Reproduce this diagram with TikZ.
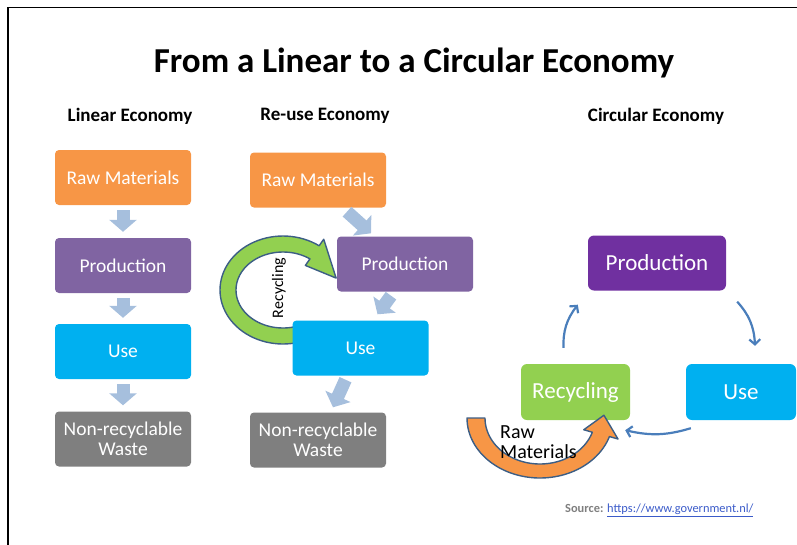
\documentclass[tikz,border=0pt]{standalone}
\usepackage{fontspec}
\setmainfont{Carlito}
\usetikzlibrary{arrows.meta,calc,bending}

\definecolor{rawc}{RGB}{247,150,70}
\definecolor{prodc}{RGB}{128,100,162}
\definecolor{usec}{RGB}{0,176,240}
\definecolor{wastec}{RGB}{127,127,127}
\definecolor{cprodc}{RGB}{112,48,160}
\definecolor{recc}{RGB}{146,208,80}
\definecolor{flowc}{RGB}{166,191,221}
\definecolor{cyclec}{RGB}{74,126,187}
\definecolor{edgec}{RGB}{60,94,133}
\definecolor{linkc}{RGB}{59,91,201}

\tikzset{
  box/.style={rounded corners=4pt, minimum width=136pt, minimum height=55pt,
    text=white, align=center, inner sep=1pt, font=\fontsize{19.5}{19.5}\selectfont},
  cbox/.style={rounded corners=6pt, minimum height=55pt, text=white,
    inner sep=2pt, font=\fontsize{23}{25}\selectfont},
  header/.style={font=\bfseries\fontsize{19}{21}\selectfont},
  flow/.style={draw=flowc, line width=13pt, -{Triangle[length=12pt,width=27pt]}},
  cycle/.style={draw=cyclec, line width=2.2pt, -{Straight Barb[length=5pt,width=11pt]}},
  band/.style={draw=edgec, line width=1.4pt, line join=round},
}

\begin{document}
\begin{tikzpicture}[x=1pt,y=-1pt]
\useasboundingbox (0,0) rectangle (797,544);

% frame
\draw[line width=1.6pt] (8,560) -- (8,7.5) -- (810,7.5);

% titles
\node[font=\bfseries\fontsize{35}{38}\selectfont] (title) at (414,63) {From a Linear to a Circular Economy};
\node[header] (hlin) at (130,116) {Linear Economy};
\node[header] (hre) at (325,116) {Re-use Economy};
\node[header] (hcirc) at (656,116) {Circular Economy};

% ---- linear economy
\node[box, fill=rawc] (lraw) at (123,177.5) {Raw Materials};
\node[box, fill=prodc] (lprod) at (123,265.5) {Production};
\node[box, fill=usec] (luse) at (123,351.5) {Use};
\node[box, fill=wastec] (lwaste) at (123,439) {Non-recyclable\\Waste};
\draw[flow, shorten <=5pt, shorten >=6pt] (lraw) -- (lprod);
\draw[flow, shorten <=5pt, shorten >=6pt] (lprod) -- (luse);
\draw[flow, shorten <=5pt, shorten >=6pt] (luse) -- (lwaste);

% ---- re-use economy: recycling loop behind the boxes
\filldraw[band, fill=recc]
  plot[domain=75:305, samples=60, variable=\t] ({283+63*cos(\t)},{290+54*sin(\t)})
  -- ({283+71*cos(305)},{290+62*sin(305)})
  -- ({283+55*cos(345)},{290+46*sin(345)})
  -- ({283+39*cos(305)},{290+30*sin(305)})
  -- plot[domain=305:75, samples=60, variable=\t] ({283+47*cos(\t)},{290+38*sin(\t)})
  -- cycle;
\node[rotate=90, font=\fontsize{16}{18}\selectfont] (rlab) at (279,288) {Recycling};

\node[box, fill=rawc] (rraw) at (318,180) {Raw Materials};
\node[box, fill=prodc] (rprod) at (405,264) {Production};
\node[box, fill=usec] (ruse) at (360.5,348) {Use};
\node[box, fill=wastec] (rwaste) at (318,440) {Non-recyclable\\Waste};
\draw[flow] ($(rraw.south)+(29,4)$) -- ($(rprod.north)+(-34,-3)$);
\draw[flow] ($(rprod.south)+(-14,4)$) -- ($(ruse.north)+(17,-6)$);
\draw[flow] ($(ruse.south)+(-15,4)$) -- ($(rwaste.north)+(15,-5)$);

% ---- circular economy
\node[cbox, fill=cprodc, minimum width=138pt] (cprod) at (657,263) {Production};
\node[cbox, fill=usec, minimum width=110pt, minimum height=56pt] (cuse) at (741,392) {Use};
\node[cbox, fill=recc, minimum width=109pt, minimum height=56pt] (crec) at (575.5,392) {Recycling};

\coordinate (r1) at ($(crec.north)+(-12,-16)$);
\coordinate (p1) at ($(cprod.south west)+(-10,14)$);
\coordinate (p2) at ($(cprod.south east)+(11,11)$);
\coordinate (u1) at ($(cuse.north)+(14,-18)$);
\coordinate (u2) at ($(cuse.south west)+(5,8)$);
\coordinate (r2) at ($(crec.south east)+(-5,10)$);
\draw[cycle] (r1) to[bend left=20] (p1);
\draw[cycle] (p2) to[bend left=20] (u1);
\draw[cycle] (u2) to[bend left=15] (r2);

% raw materials entering the loop
\filldraw[band, fill=rawc]
  plot[domain=180:18, samples=60, variable=\t] ({540+73*cos(\t)},{418+60*sin(\t)})
  -- ({540+82*cos(18)},{418+68*sin(18)})
  -- ({540+64*cos(-3)},{418+53*sin(-3)})
  -- ({540+46*cos(18)},{418+38*sin(18)})
  -- plot[domain=18:180, samples=60, variable=\t] ({540+55*cos(\t)},{418+46*sin(\t)})
  -- cycle;
\node[anchor=west, align=left, font=\fontsize{20}{20}\selectfont, inner sep=0pt] (rawlab) at (500,442) {Raw\\Materials};

% source line
\node[anchor=west, font=\fontsize{12.4}{14}\selectfont, inner sep=0pt] (src) at (565,510)
  {\textcolor{wastec}{\bfseries Source:} \textcolor{linkc}{\underline{https://www.government.nl/}}};
\end{tikzpicture}
\end{document}
